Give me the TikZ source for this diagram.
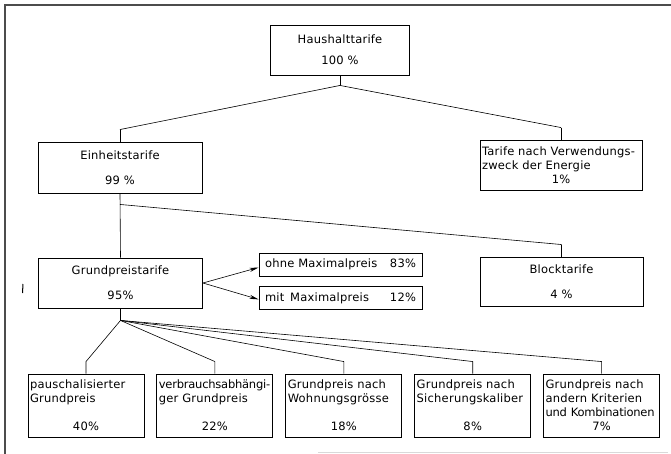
\documentclass[tikz,border=0pt]{standalone}
\usepackage{fontspec}
\setmainfont{DejaVu Sans}[LetterSpace=2]
\usetikzlibrary{arrows.meta,positioning}
\hyphenpenalty=10000
\exhyphenpenalty=10000
\newcommand{\tight}{\addfontfeature{LetterSpace=-2}}

\begin{document}
\begin{tikzpicture}[x=1pt,y=1pt,->,>={Stealth[length=9pt,width=4pt]},semithick,
                    box/.style={draw,line width=0.9pt,inner sep=2pt,
                                font=\fontsize{11.5}{14}\selectfont},
                    pbox/.style={box,text width=112pt,minimum height=63pt,align=left}]
    \useasboundingbox (0,0) rectangle (671,-454);
    % frame
    \draw[-,line width=1.2pt,black!70] (671,-5) -- (5,-5) -- (5,-454);
    \draw[-,black!15,line width=0.8pt] (318,-452) -- (668,-452);
    \draw[-,line width=1pt] (23,-284) -- (22.5,-293);

    \node [box,minimum width=139pt,minimum height=50pt,align=center]
          (ht) at (340,-50) {Haushalttarife\\[7pt]100 \%};
    \node [box,minimum width=164pt,minimum height=51pt,align=center]
          (et) at (120,-167.5) {Einheitstarife\\[11pt]99 \%};
    \node [box,text width=158pt,minimum height=50pt,align=left]
          (vt) at (561,-165) {Tarife~nach~Verwendungs-\\zweck~der~Energie\\\makebox[\linewidth]{1\%}};
    \node [box,minimum width=164pt,minimum height=50pt,align=center]
          (gt) at (120.5,-283) {Grundpreistarife\\[11pt]95\%};
    \node [box,minimum width=163pt,minimum height=49pt,align=center]
          (bt) at (561.5,-281.5) {Blocktarife\\[11pt]4 \%};
    \node [box,minimum width=163pt,minimum height=23pt]
          (om) at (340.5,-264.5) {\makebox[151pt]{ohne~Maximalpreis\hfill 83\%}};
    \node [box,minimum width=163pt,minimum height=23pt,below=10pt of om]
          (mm) {\makebox[151pt]{mit\enspace Maximalpreis\hfill 12\%}};

    \node [pbox] (p1) at (86,-405.5)
          {pauschalisierter\\Grundpreis\\[14pt]\makebox[\linewidth]{40\%}};
    \node [pbox,right=12pt of p1] (p2)
          {{\tight verbrauchsabhängi-}\\ger~Grundpreis\\[14pt]\makebox[\linewidth]{22\%}};
    \node [pbox,right=12pt of p2] (p3)
          {Grundpreis~nach\\Wohnungsgrösse\\[14pt]\makebox[\linewidth]{18\%}};
    \node [pbox,right=12pt of p3] (p4)
          {Grundpreis~nach\\Sicherungskaliber\\[14pt]\makebox[\linewidth]{8\%}};
    \node [pbox,right=12pt of p4] (p5)
          {Grundpreis~nach\\andern~Kriterien\\{\tight und~Kombinationen}\\\makebox[\linewidth]{7\%}};

    \coordinate (hf) at ([yshift=-10pt]ht.south);
    \coordinate (ef) at ([yshift=-11pt]et.south);
    \coordinate (gf) at ([yshift=-12pt]gt.south);

    \path[-] (ht.south) edge (hf)
             (hf) edge ([yshift=12pt]et.north)
                  edge ([yshift=12pt]vt.north)
             ([yshift=12pt]et.north) edge (et.north)
             ([yshift=12pt]vt.north) edge (vt.north)
             (et.south) edge (gt.north)
             (ef) edge ([yshift=12pt]bt.north)
             ([yshift=12pt]bt.north) edge (bt.north)
             (gt.south) edge (gf);
    \path (gt.east) edge ([yshift=-3pt]om.west)
                    edge ([yshift=-1pt]mm.west);
    \foreach \p in {p1,p2,p3,p4,p5}
        \draw[-] (gf) -- ([yshift=12pt]\p.north) -- (\p.north);
\end{tikzpicture}
\end{document}
